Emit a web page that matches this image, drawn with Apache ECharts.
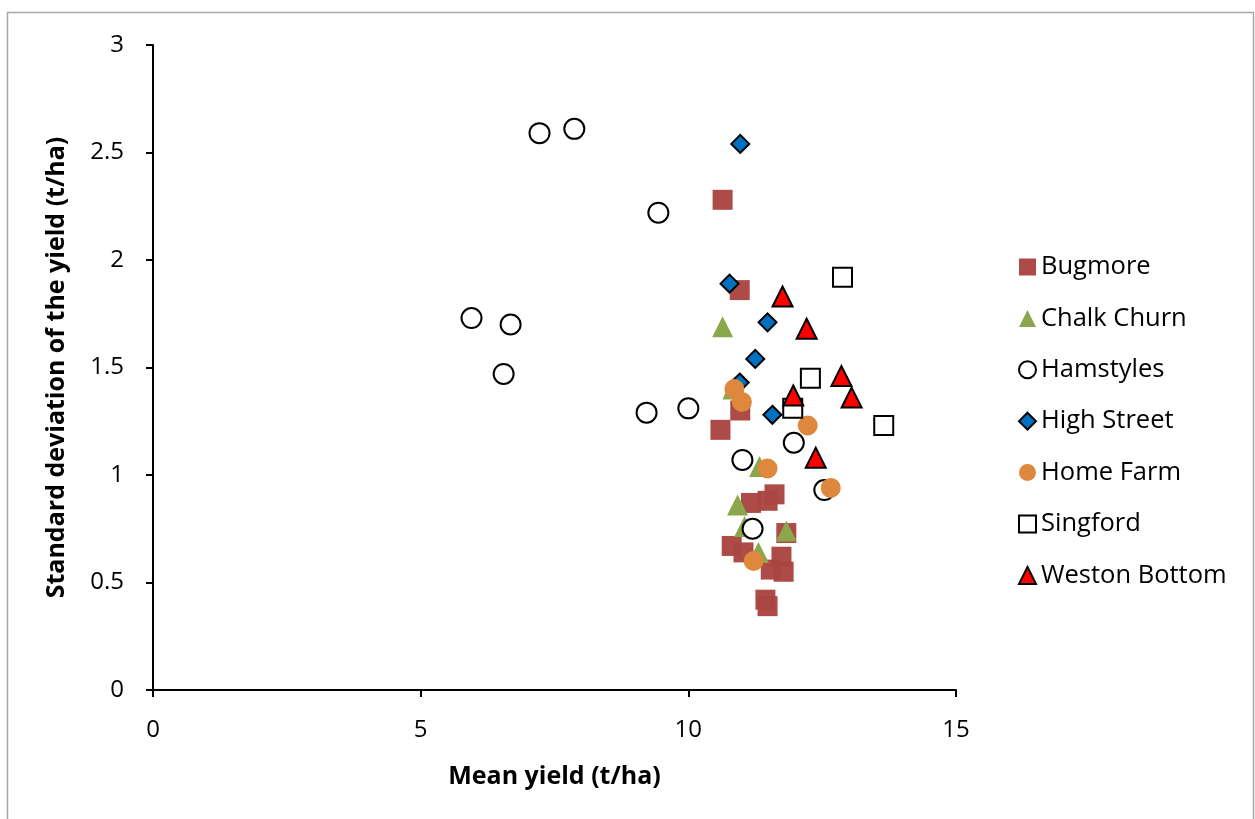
<!DOCTYPE html>
<html>
<head>
<meta charset="utf-8">
<script src="https://cdn.jsdelivr.net/npm/echarts@6/dist/echarts.min.js"></script>
<style>
  html, body { margin: 0; padding: 0; background: #fff; }
  #chart { width: 1255px; height: 819px; }
</style>
</head>
<body>
<div id="chart"></div>
<script>
// Mean yield (t/ha) and standard deviation of yield (t/ha) per farm
const bugmore = [
  [10.64, 2.28], [10.96, 1.86], [10.60, 1.21], [10.97, 1.30],
  [11.17, 0.87], [11.48, 0.88], [11.61, 0.91], [11.83, 0.73],
  [10.81, 0.67], [11.03, 0.64], [11.54, 0.56], [11.74, 0.62],
  [11.78, 0.55], [11.44, 0.42], [11.48, 0.39]
];
const chalkChurn = [
  [10.64, 1.69], [10.83, 1.40], [11.33, 1.04], [10.92, 0.86],
  [11.05, 0.76], [11.83, 0.74], [11.31, 0.64]
];
const hamstyles = [
  [7.22, 2.59], [7.87, 2.61], [9.44, 2.22], [5.95, 1.73],
  [6.68, 1.70], [6.55, 1.47], [9.22, 1.29], [10.00, 1.31],
  [11.01, 1.07], [11.97, 1.15], [11.20, 0.75], [12.54, 0.93]
];
const highStreet = [
  [10.97, 2.54], [10.77, 1.89], [11.48, 1.71], [11.25, 1.54],
  [10.96, 1.43], [11.57, 1.28]
];
const homeFarm = [
  [10.86, 1.40], [11.00, 1.34], [12.23, 1.23], [11.48, 1.03],
  [12.66, 0.94], [11.22, 0.60]
];
const singford = [
  [12.88, 1.92], [12.28, 1.45], [11.95, 1.31], [13.65, 1.23]
];
const westonBottom = [
  [11.76, 1.83], [12.21, 1.68], [12.86, 1.46], [13.05, 1.36],
  [11.96, 1.37], [12.38, 1.08]
];

const xTicks = [0, 5, 10, 15];
const yTicks = [0, 0.5, 1, 1.5, 2, 2.5, 3];

const FONT = '"Open Sans", Lato, sans-serif';
const DIAMOND = 'path://M0,-1L1,0L0,1L-1,0Z';

const chart = echarts.init(document.getElementById('chart'), null, { renderer: 'canvas' });

function series(name, data, symbol, size, style) {
  return {
    name, type: 'scatter', data, symbol, symbolSize: size,
    itemStyle: Object.assign({ opacity: 1 }, style),
    emphasis: { disabled: true }
  };
}

chart.setOption({
  animation: false,
  backgroundColor: '#ffffff',
  graphic: [{
    type: 'rect',
    shape: { x: 7.5, y: 12.5, width: 1246, height: 830 },
    style: { fill: 'none', stroke: '#a6a6a6', lineWidth: 1.5 },
    silent: true
  }],
  grid: { left: 153, top: 45, width: 803, height: 645, containLabel: false },
  xAxis: {
    type: 'value', min: xTicks[0], max: xTicks[xTicks.length - 1], interval: 5,
    name: 'Mean yield (t/ha)', nameLocation: 'middle', nameGap: 74,
    nameTextStyle: { fontFamily: FONT, fontSize: 25, fontWeight: 'bold', color: '#000' },
    axisLine: { onZero: false, lineStyle: { color: '#000', width: 2 } },
    axisTick: { show: true, length: 7, inside: false, lineStyle: { color: '#000', width: 2 } },
    axisLabel: { fontFamily: FONT, fontSize: 24, color: '#000', margin: 28 },
    splitLine: { show: false }
  },
  yAxis: {
    type: 'value', min: yTicks[0], max: yTicks[yTicks.length - 1], interval: 0.5,
    name: 'Standard deviation of the yield (t/ha)', nameLocation: 'middle', nameGap: 84,
    nameRotate: 90,
    nameTextStyle: { fontFamily: FONT, fontSize: 25, fontWeight: 'bold', color: '#000' },
    axisLine: { show: true, onZero: false, lineStyle: { color: '#000', width: 2 } },
    axisTick: { show: true, length: 7, inside: false, lineStyle: { color: '#000', width: 2 } },
    axisLabel: { fontFamily: FONT, fontSize: 24, color: '#000', margin: 29 },
    splitLine: { show: false }
  },
  legend: {
    orient: 'vertical', left: 1013, top: 249,
    itemWidth: 17, itemHeight: 17, itemGap: 25.4,
    textStyle: { fontFamily: FONT, fontSize: 25.5, color: '#000', padding: [0, 0, 0, 0], lineHeight: 26 },
    data: ['Bugmore', 'Chalk Churn', 'Hamstyles', 'High Street', 'Home Farm', 'Singford', 'Weston Bottom']
  },
  series: [
    series('Bugmore', bugmore, 'rect', 20, { color: '#A94541', opacity: 0.97 }),
    series('Chalk Churn', chalkChurn, 'triangle', 21, { color: '#8BA74C' }),
    series('Hamstyles', hamstyles, 'circle', 20, { color: '#ffffff', borderColor: '#000', borderWidth: 2 }),
    series('High Street', highStreet, DIAMOND, 18, { color: '#0070C0', borderColor: '#000', borderWidth: 2 }),
    series('Home Farm', homeFarm, 'circle', 20, { color: '#DD883C' }),
    series('Singford', singford, 'rect', 19, { color: '#ffffff', borderColor: '#000', borderWidth: 2 }),
    series('Weston Bottom', westonBottom, 'triangle', 20, { color: '#FF0000', borderColor: '#000', borderWidth: 2 })
  ]
});
</script>
</body>
</html>
